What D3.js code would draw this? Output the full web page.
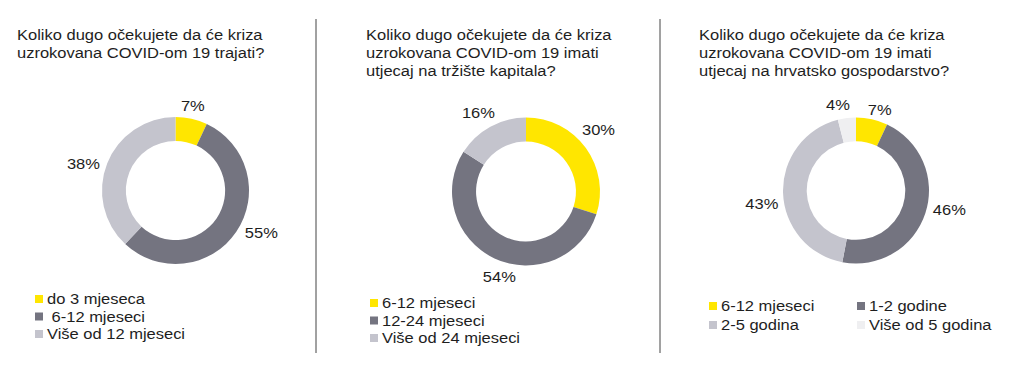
<!DOCTYPE html>
<html><head><meta charset="utf-8">
<script src="https://cdn.jsdelivr.net/npm/d3@7"></script>
<style>
body{margin:0;background:#fff;}
svg text{font-family:"Liberation Sans",Arial,sans-serif;fill:#1e1e1e;}
</style></head>
<body><svg id="c" width="1024" height="377"></svg>
<script>
// ---- data ----
const titles1 = ["Koliko dugo očekujete da će kriza", "uzrokovana COVID-om 19 trajati?"];
const cats1 = ["do 3 mjeseca", " 6-12 mjeseci", "Više od 12 mjeseci"];
const vals1 = [7, 55, 38];

const titles2 = ["Koliko dugo očekujete da će kriza", "uzrokovana COVID-om 19 imati", "utjecaj na tržište kapitala?"];
const cats2 = ["6-12 mjeseci", "12-24 mjeseci", "Više od 24 mjeseci"];
const vals2 = [30, 54, 16];

const titles3 = ["Koliko dugo očekujete da će kriza", "uzrokovana COVID-om 19 imati", "utjecaj na hrvatsko gospodarstvo?"];
const cats3 = ["6-12 mjeseci", "1-2 godine", "2-5 godina", "Više od 5 godina"];
const vals3 = [7, 46, 43, 4];

const palette = ["#FFE600", "#747480", "#C4C4CD", "#EFEFF1"];

// ---- layout ----
const svg = d3.select("#c");
const FS = 15;      // font size
const SX = 1.1;     // horizontal stretch of the (wide) original typeface
const LABEL_FRAC = 0.46; // where along the slice the outside label sits
const MIN_GAP = 18; // minimum horizontal gap between neighbouring labels

function addText(parent, x, y, str, anchor) {
  const g = parent.append("g").attr("transform", `translate(${x},${y}) scale(${SX},1)`);
  const t = g.append("text").style("font-size", FS + "px")
    .style("white-space", "pre")
    .attr("text-anchor", anchor || "start").text(str);
  return {g, t};
}

const panels = [
  {titles: titles1, cats: cats1, vals: vals1, tx: 17, ty: 40, cx: 175.5, cy: 190.5, r: 73.5,
   legend: {cols: 1, x0: 35, y0: 299, dy: 17.5, dx: 0}},
  {titles: titles2, cats: cats2, vals: vals2, tx: 366, ty: 39.5, cx: 526, cy: 191.5, r: 74,
   legend: {cols: 1, x0: 370, y0: 303, dy: 17.5, dx: 0}},
  {titles: titles3, cats: cats3, vals: vals3, tx: 699, ty: 39.5, cx: 856, cy: 190.5, r: 73,
   legend: {cols: 2, x0: 709, y0: 306, dy: 19, dx: 148}}
];

// separators
[316, 660].forEach(x => {
  svg.append("line").attr("x1", x).attr("x2", x).attr("y1", 19).attr("y2", 353)
    .attr("stroke", "#444").attr("stroke-width", 1);
});

const pie = d3.pie().sort(null).value(d => d);

panels.forEach(p => {
  const g = svg.append("g");
  // title
  p.titles.forEach((line, i) => addText(g, p.tx, p.ty + i * 18.3, line));

  const arcs = pie(p.vals);
  const inner = p.r * 0.675;
  const arc = d3.arc().innerRadius(inner).outerRadius(p.r);
  const dg = g.append("g").attr("transform", `translate(${p.cx},${p.cy})`);
  dg.selectAll("path").data(arcs).join("path")
    .attr("d", arc).attr("fill", (d, i) => palette[i]);

  // labels (outside end)
  const labs = arcs.map((a) => {
    const m = a.startAngle + (a.endAngle - a.startAngle) * LABEL_FRAC;
    const lab = addText(dg, 0, 0, d3.format(".0f")(a.value) + "%", "middle");
    const w = lab.t.node().getComputedTextLength() * SX;
    const h = FS * 0.72;
    const s = Math.sin(m), c = -Math.cos(m);
    const dist = p.r + 5 + (w / 2) * Math.abs(s) + (h / 2) * Math.abs(c);
    return {lab, w, h, x: dist * s, y: dist * c + h / 2};
  });
  // simple collision avoidance between the first and last label (both near the top)
  const A = labs[labs.length - 1], B = labs[0];
  if (labs.length > 1 && Math.abs(A.y - B.y) < A.h + 4) {
    const gap = (B.x - B.w / 2) - (A.x + A.w / 2);
    if (gap < MIN_GAP) {
      const push = (MIN_GAP - gap) / 2;
      A.x -= push; B.x += push;
      B.y += 3; A.y -= 2;
    }
  }
  labs.forEach(L => L.lab.g.attr("transform", `translate(${L.x},${L.y}) scale(${SX},1)`));

  // legend
  const L = p.legend;
  p.cats.forEach((cat, i) => {
    const col = i % L.cols, row = Math.floor(i / L.cols);
    const x = L.x0 + col * L.dx, y = L.y0 + row * L.dy;
    g.append("rect").attr("x", x).attr("y", y - 4).attr("width", 8).attr("height", 8)
      .attr("fill", palette[i]);
    addText(g, x + 12, y + 5, cat);
  });
});
</script></body></html>
